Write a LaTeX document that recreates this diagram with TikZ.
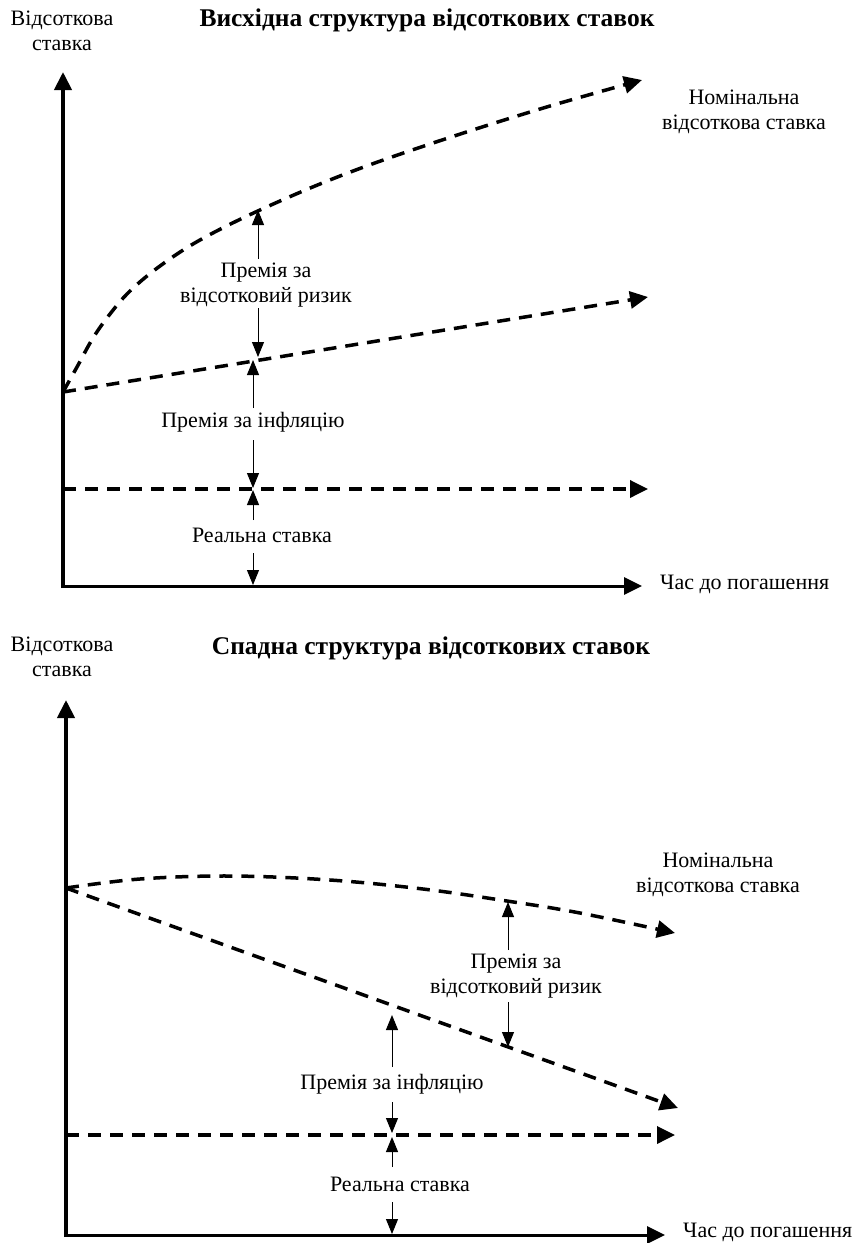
\documentclass[tikz,border=0pt]{standalone}
\usepackage{fontspec}
\setmainfont{Liberation Serif}
\usetikzlibrary{arrows.meta}
\begin{document}
\begin{tikzpicture}[x=1pt,y=-1pt,
  txt/.style={font=\fontsize{22}{25}\selectfont, align=center, inner sep=0pt},
  ttl/.style={font=\fontsize{25.5}{28}\selectfont\bfseries, inner sep=0pt},
  bigtip/.style={-{Triangle[length=18pt,width=17pt]}},
  yaxis/.style={line width=4pt, bigtip},
  xaxis/.style={line width=3pt, bigtip},
  dline/.style={line width=3.5pt, dash pattern=on 13pt off 9pt, bigtip},
  ann/.style={line width=1pt, -{Triangle[length=15pt,width=12pt]}}]
\useasboundingbox (0,0) rectangle (856,1243);

% ================= TOP CHART =================
\node[txt] (ylabT) at (62,30.5) {Відсоткова\\ставка};
\node[ttl] (titleT) at (427,20) {Висхідна структура відсоткових ставок};
\node[txt] (nomT) at (744,111.5) {Номінальна\\відсоткова ставка};
\node[txt, anchor=west] (timeT) at (660,584) {Час до погашення};
\node[txt] (riskT) at (266,285.5) {Премія за\\відсотковий ризик};
\node[txt] (inflT) at (253,422) {Премія за інфляцію};
\node[txt] (realT) at (262,535) {Реальна ставка};

\coordinate (oT) at (63,588);
\coordinate (oTx) at (61,586);
\coordinate (ytipT) at (63,72);
\coordinate (xtipT) at (642,586);
\coordinate (aT) at (63,392);
\coordinate (midtipT) at (648,297);
\coordinate (rsT) at (63,489);
\coordinate (rtipT) at (648,489);

\draw[yaxis] (oT) -- (ytipT);
\draw[xaxis] (oTx) -- (xtipT);
\draw[dline] plot[smooth, tension=0.6] coordinates {(63,392) (77,367) (93,338) (110,314) (130,291) (160,266) (200,240) (260,210) (340,176) (430,144) (540,109) (642,80)};
\draw[dline] (aT) -- (midtipT);
\draw[dline] (rsT) -- (rtipT);

\coordinate (r1a) at (258,259); \coordinate (r1b) at (258,210);
\coordinate (r2a) at (258,308); \coordinate (r2b) at (258,357);
\coordinate (i1a) at (253,408); \coordinate (i1b) at (253,360);
\coordinate (i2a) at (253,440); \coordinate (i2b) at (253,488);
\coordinate (e1a) at (253,520); \coordinate (e1b) at (253,490);
\coordinate (e2a) at (253,553); \coordinate (e2b) at (253,585);
\draw[ann] (r1a) -- (r1b);
\draw[ann] (r2a) -- (r2b);
\draw[ann] (i1a) -- (i1b);
\draw[ann] (i2a) -- (i2b);
\draw[ann] (e1a) -- (e1b);
\draw[ann] (e2a) -- (e2b);

% ================= BOTTOM CHART =================
\node[txt] (ylabB) at (62,657) {Відсоткова\\ставка};
\node[ttl] (titleB) at (431,648) {Спадна структура відсоткових ставок};
\node[txt] (nomB) at (718,875) {Номінальна\\відсоткова ставка};
\node[txt, anchor=west] (timeB) at (683,1232) {Час до погашення};
\node[txt] (riskB) at (516,976.5) {Премія за\\відсотковий ризик};
\node[txt] (inflB) at (392,1084) {Премія за інфляцію};
\node[txt] (realB) at (400,1184) {Реальна ставка};

\coordinate (oB) at (66,1237);
\coordinate (oBx) at (64,1235);
\coordinate (ytipB) at (66,700);
\coordinate (xtipB) at (665,1235);
\coordinate (aB) at (66,888);
\coordinate (falltipB) at (678,1108);
\coordinate (rsB) at (66,1135);
\coordinate (rtipB) at (675,1135);

\draw[yaxis] (oB) -- (ytipB);
\draw[xaxis] (oBx) -- (xtipB);
\draw[dline] plot[smooth, tension=0.6] coordinates {(66,888) (140,879) (230,876) (330,880) (423,889) (507,901) (580,913) (675,933)};
\draw[dline] (aB) -- (falltipB);
\draw[dline] (rsB) -- (rtipB);

\coordinate (R1a) at (508,950); \coordinate (R1b) at (508,902);
\coordinate (R2a) at (508,1002); \coordinate (R2b) at (508,1047);
\coordinate (I1a) at (392,1067); \coordinate (I1b) at (392,1015);
\coordinate (I2a) at (392,1102); \coordinate (I2b) at (392,1133);
\coordinate (E1a) at (392,1167); \coordinate (E1b) at (392,1137);
\coordinate (E2a) at (392,1202); \coordinate (E2b) at (392,1234);
\draw[ann] (R1a) -- (R1b);
\draw[ann] (R2a) -- (R2b);
\draw[ann] (I1a) -- (I1b);
\draw[ann] (I2a) -- (I2b);
\draw[ann] (E1a) -- (E1b);
\draw[ann] (E2a) -- (E2b);
\end{tikzpicture}
\end{document}
